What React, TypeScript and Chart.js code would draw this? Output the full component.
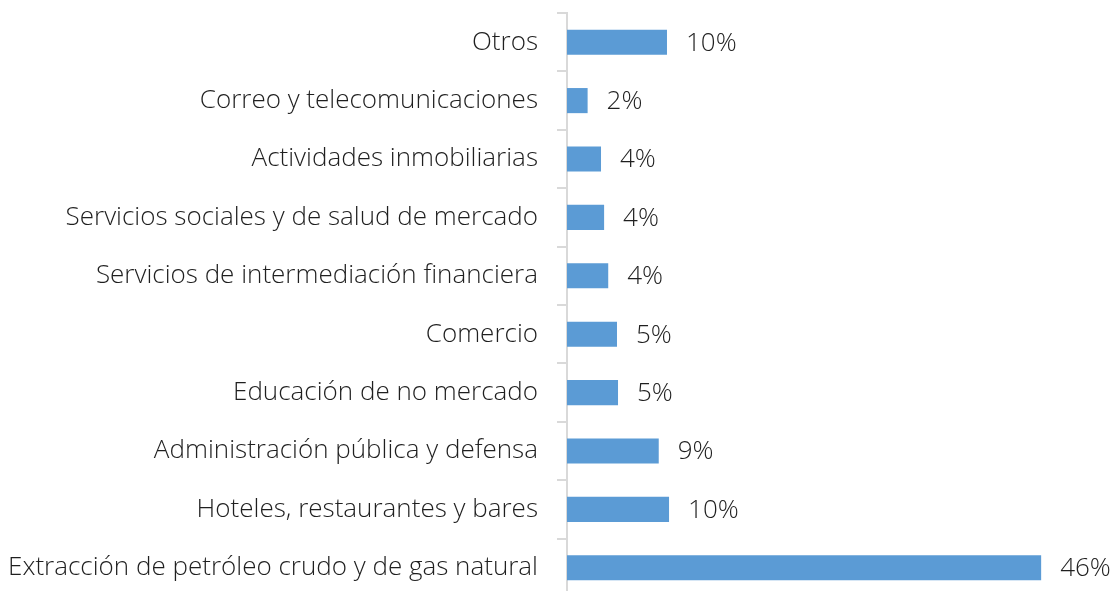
import React, { useEffect, useRef } from "react";
import { Chart, registerables } from "chart.js";

Chart.register(...registerables);

const categories = [
  "Otros",
  "Correo y telecomunicaciones",
  "Actividades inmobiliarias",
  "Servicios sociales y de salud de mercado",
  "Servicios de intermediación financiera",
  "Comercio",
  "Educación de no mercado",
  "Administración pública y defensa",
  "Hoteles, restaurantes y bares",
  "Extracción de petróleo crudo y de gas natural",
];

const values = [9.7, 2.0, 3.3, 3.6, 4.0, 4.85, 4.95, 8.9, 9.9, 46.0];

const valueLabels = ["10%", "2%", "4%", "4%", "4%", "5%", "5%", "9%", "10%", "46%"];

const FONT = "'Open Sans'";
const FONT_SIZE = 26;

const dataLabelPlugin = {
  id: "dataLabels",
  afterDatasetsDraw(chart: any) {
    const ctx = chart.ctx;
    const meta = chart.getDatasetMeta(0);
    ctx.save();
    ctx.font = `300 ${FONT_SIZE}px ${FONT}`;
    ctx.fillStyle = "#1f1f1f";
    ctx.textAlign = "left";
    ctx.textBaseline = "middle";
    meta.data.forEach((bar: any, i: number) => {
      ctx.fillText(valueLabels[i], bar.x + 19, bar.y + 1);
    });
    ctx.restore();
  },
};

export default function App() {
  const ref = useRef<HTMLCanvasElement>(null);

  useEffect(() => {
    document.body.style.margin = "0";
    const chart = new Chart(ref.current!, {
      type: "bar",
      data: {
        labels: categories,
        datasets: [
          {
            data: values,
            backgroundColor: "#5B9BD5",
            borderWidth: 0,
            barPercentage: 0.43,
            categoryPercentage: 1,
          },
        ],
      },
      options: {
        indexAxis: "y",
        animation: false,
        responsive: true,
        maintainAspectRatio: false,
        layout: { padding: { top: 13, bottom: 3, left: 0, right: 11 } },
        plugins: {
          legend: { display: false },
          tooltip: { enabled: false },
        },
        scales: {
          x: {
            display: false,
            min: 0,
            max: 52,
          },
          y: {
            afterFit(scale: any) {
              scale.width = 567;
              scale.paddingTop = 0;
              scale.paddingBottom = 0;
            },
            grid: {
              offset: true,
              drawOnChartArea: false,
              drawTicks: true,
              tickLength: 10,
              color: "#d9d9d9",
              lineWidth: 2,
            },
            border: { display: true, color: "#d9d9d9", width: 2 },
            ticks: {
              padding: 19,
              color: "#1f1f1f",
              font: { family: FONT, size: FONT_SIZE, weight: "300" as any },
            },
          },
        },
      },
      plugins: [dataLabelPlugin],
    });
    return () => chart.destroy();
  }, []);

  return (
    <div style={{ width: 1114, height: 591, overflow: "hidden", position: "relative" }}>
      <div style={{ width: 1114, height: 600, position: "absolute", left: 0, top: 0 }}>
        <canvas ref={ref} />
      </div>
    </div>
  );
}
